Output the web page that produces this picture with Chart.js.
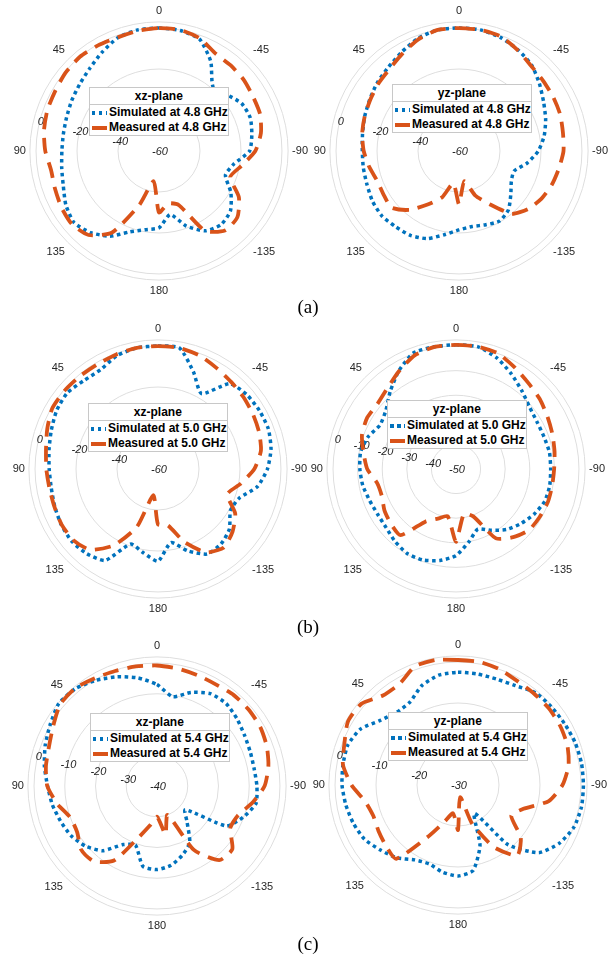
<!DOCTYPE html>
<html>
<head>
<meta charset="utf-8">
<script src="https://cdn.jsdelivr.net/npm/chart.js@4.4.1/dist/chart.umd.min.js"></script>
<style>
  body { margin: 0; background: #fff; }
  #page { position: relative; width: 613px; height: 959px; overflow: hidden; }
  canvas { position: absolute; }
  .lg { position: absolute; z-index: 2; background: #fff; border: 1px solid #c8c8c8;
        font: bold 12px "Liberation Sans", Arial, sans-serif; color: #000; }
  .lg .t { height: 16px; line-height: 16px; text-align: center; border-bottom: 1px solid #c8c8c8; }
  .lg .e { position: relative; height: 15px; line-height: 15px; padding-left: 19px; white-space: nowrap; }
  .lg .s { position: absolute; left: 2px; top: 6px; width: 15px; height: 4px; }
  .lg .sim { background: repeating-linear-gradient(90deg, #0072BD 0 3.5px, transparent 3.5px 7px); }
  .lg .mea { background: #D95319; }
  .cap { position: absolute; transform: translate(-50%, -50%); font: 19px "Liberation Serif", "Times New Roman", serif; }
</style>
</head>
<body>
<div id="page"></div>
<script>
// theta in degrees, read clockwise on screen from the top: 0, -10 ... -170, 180, 170 ... 10
const thetaDeg = [0, -10, -20, -30, -40, -50, -60, -70, -80, -90, -100, -110, -120, -130, -140, -150, -160, -170,
                  180, 170, 160, 150, 140, 130, 120, 110, 100, 90, 80, 70, 60, 50, 40, 30, 20, 10];
const angleTickLabels = [0, -45, -90, -135, 180, 135, 90, 45];

// gain in dB
const simXZ48 = [0, -0.3, -2, -9.5, -19, -17, -13.5, -12.6, -14, -15.8, -23, -25.5, -19.5, -14.5, -13, -15, -21, -28.5,
                 -22.5, -21, -18, -12, -8, -5.8, -7.5, -10.3, -11.8, -12.6, -12.6, -12, -10.8, -9.4, -7.4, -4.4, -1.2, 0];
const measXZ48 = [0, 0, -1.5, -5, -5.5, -6, -7, -7.5, -9.5, -13, -19, -23, -15, -10, -9.5, -15, -32, -34,
                  -30, -45, -32, -14, -6.5, -4.5, -5, -6, -6.5, -4.5, -3, -2, -1.5, -0.5, 0, -0.5, -1, -0.5];
const simYZ48 = [0, 0, -1, -2.8, -5, -8.8, -12.3, -15, -17.8, -21.3, -26.2, -31.4, -30.5, -27, -22.5, -20.5, -21.7, -22.6,
                 -21.5, -18.5, -14.5, -12.5, -11.8, -10.8, -11.2, -12.2, -12.6, -12.8, -12.2, -11, -9.7, -8, -6.5, -4.2, -1.5, 0];
const measYZ48 = [0, 0, -0.5, -3, -5.5, -6.5, -7, -7.5, -8.5, -9, -10.5, -11.8, -13.5, -16, -20, -30, -37, -45,
                  -34, -44, -36, -30, -22.5, -17, -17.5, -17.5, -15.5, -13.5, -12, -11, -10, -8.7, -7.5, -5, -2, 0];

const simXZ50 = [0, 0, -9.5, -17.5, -5.6, -3.5, -2.9, -2.7, -4, -6.6, -10.7, -18, -19.2, -14.5, -12.2, -12.1, -17.5, -23.5,
                 -15, -18.5, -21, -8.5, -6, -5.1, -5.5, -6.4, -7.1, -6.9, -6, -4.6, -2.9, -2.2, -3.7, -4, -1.2, 0];
const measXZ50 = [0, 0, -1, -3, -4.5, -5.5, -6.5, -7.5, -9, -13, -19, -24, -16.5, -12.5, -10, -13, -22, -32,
                  -33, -47, -30, -17, -8.5, -6, -5.7, -6.2, -6.2, -5.5, -4.5, -2.5, -0.5, -0.5, -0.8, -1, -0.5, 0];
const simYZ50 = [0.5, 0.5, -1.8, -5.2, -8.4, -10.9, -11.9, -11.9, -11.4, -11.5, -11.3, -11.6, -13.3, -15.5, -17.9, -21.2, -24, -19.9,
                 -14.8, -12.2, -10.6, -10.3, -11.5, -12.9, -13.2, -12.6, -11.5, -10.9, -10.6, -11.9, -14.3, -12.8, -8.5, -3.7, 0.3, 0.5];
const measYZ50 = [0.5, 0.5, 0, -2.3, -4.3, -5.6, -7.1, -8.3, -9.3, -10.1, -10.3, -10.3, -10.8, -11.3, -13.8, -17.4, -29.5, -31.5,
                  -20.4, -30.5, -28.5, -25.4, -14.9, -15.4, -16.4, -17.9, -17.4, -13.9, -11.8, -9.3, -8.3, -8.5, -6.8, -3.9, -0.8, 0.4];

const simXZ54 = [-7, -10.5, -7.6, -5.3, -5, -6, -7.1, -7.7, -7.9, -7.5, -7.3, -10.2, -14, -28, -24.8, -18.7, -16, -13.8,
                 -12.8, -13.5, -19.5, -18, -12.5, -9.6, -7.7, -6.6, -5.4, -4.4, -2.8, -1.3, 0.1, 1.7, 1.3, -0.3, -2.2, -4.3];
const measXZ54 = [-0.8, -1.2, -1.6, -1.8, -1.3, -1.2, -1.3, -2, -3.2, -5, -8.5, -12, -12.5, -8, -8.5, -16, -30, -24,
                  -30, -27, -22, -12, -8, -7.8, -10, -10, -7, -4.3, -3.3, -2.6, -1, 1.2, 1.5, 0.5, -0.2, -0.5];
const simYZ54 = [-2.5, -2.5, -2.5, -2, -0.6, -0.3, 0, 0.4, 0.6, 0.6, 0.6, 0.1, -1.5, -4.3, -11, -22, -14.3, -8.8,
                 -7.8, -8.4, -9.5, -8.9, -6.8, -5.3, -3.6, -2.8, -2.2, -1.7, -1.5, -1.4, -2.6, -5.4, -6.8, -6.6, -4.2, -2.8];
const measYZ54 = [0.5, 0.5, 0, -0.8, -1, -1, -1.2, -1.6, -2.6, -4.5, -7.5, -13, -15, -10, -7.5, -12.5, -20, -27,
                  -19, -23, -20.5, -15.5, -6.5, -7, -7.6, -8, -7, -4, -1.5, -0.5, 1, 0.8, -1.5, -1.5, 0.8, 1];

// radial tick labels (dB)
const rTicks20 = [0, -20, -40, -60];
const rTicks50 = [0, -10, -20, -30, -40, -50];
const rTicks40 = [0, -10, -20, -30, -40];
const rTicks30 = [0, -10, -20, -30];

const BLUE = '#0072BD';
const ORANGE = '#D95319';
const GRID = '#dedede';

// the library grid runs every 5 deg so the 45 deg spokes exist; data sit on every other spoke
const thetaGrid = [];
for (let i = 0; i < 72; i++) {
  let a = -5 * i;
  if (a <= -180) a += 360;
  thetaGrid.push(a);
}
const onGrid = arr => thetaGrid.map(a => {
  const k = thetaDeg.indexOf(a);
  return k < 0 ? null : arr[k];
});

const panels = [
  { cx: 159, cy: 151, plane: 'xz-plane', freq: '4.8', sim: simXZ48, meas: measXZ48, ticks: rTicks20, max: 3,   lg: [89, 87] },
  { cx: 459, cy: 151, plane: 'yz-plane', freq: '4.8', sim: simYZ48, meas: measYZ48, ticks: rTicks20, max: 3,   lg: [392, 84] },
  { cx: 158, cy: 469, plane: 'xz-plane', freq: '5.0', sim: simXZ50, meas: measXZ50, ticks: rTicks20, max: 3,   lg: [88, 403] },
  { cx: 456, cy: 469, plane: 'yz-plane', freq: '5.0', sim: simYZ50, meas: measYZ50, ticks: rTicks50, max: 2.5, lg: [387, 400] },
  { cx: 157, cy: 786, plane: 'xz-plane', freq: '5.4', sim: simXZ54, meas: measXZ54, ticks: rTicks40, max: 2,   lg: [90, 713] },
  { cx: 458, cy: 785, plane: 'yz-plane', freq: '5.4', sim: simYZ54, meas: measYZ54, ticks: rTicks30, max: 1.5, lg: [388, 712] },
];

const captions = [['(a)', 308, 307], ['(b)', 308, 627], ['(c)', 308, 944]];

// radial dB labels along a ray at 76 deg (counter-clockwise from top), like the reference
const rTickLabels = {
  id: 'rTickLabels',
  beforeDatasetsDraw(chart, args, opts) {
    const s = chart.scales.r;
    const ctx = chart.ctx;
    const a = opts.angle * Math.PI / 180;
    ctx.save();
    ctx.font = 'italic 11px "Liberation Sans", Arial, sans-serif';
    ctx.fillStyle = '#262626';
    ctx.textAlign = 'center';
    ctx.textBaseline = 'middle';
    opts.values.forEach(v => {
      const d = s.getDistanceFromCenterForValue(v);
      ctx.fillText(String(v), s.xCenter - d * Math.sin(a) + 1, s.yCenter - d * Math.cos(a) + 1);
    });
    ctx.restore();
  }
};

const page = document.getElementById('page');
const SIZE = 297;

panels.forEach(p => {
  const canvas = document.createElement('canvas');
  canvas.width = SIZE;
  canvas.height = SIZE;
  canvas.style.left = (p.cx - 146) + 'px';
  canvas.style.top = (p.cy - 148) + 'px';
  page.appendChild(canvas);

  const rMin = Math.min(...p.ticks);
  new Chart(canvas.getContext('2d'), {
    type: 'radar',
    data: {
      labels: thetaGrid,
      datasets: [
        {
          label: 'Simulated at ' + p.freq + ' GHz',
          data: onGrid(p.sim),
          borderColor: BLUE,
          borderWidth: 3.5,
          borderDash: [3.5, 3.5],
          borderCapStyle: 'butt',
          fill: false,
          spanGaps: true,
          order: 1,
        },
        {
          label: 'Measured at ' + p.freq + ' GHz',
          data: onGrid(p.meas),
          borderColor: ORANGE,
          borderWidth: 3.8,
          borderDash: [16, 9],
          borderCapStyle: 'butt',
          fill: false,
          spanGaps: true,
          order: 0,
        },
      ],
    },
    options: {
      responsive: false,
      animation: false,
      events: [],
      elements: { point: { radius: 0 }, line: { tension: 0.2 } },
      plugins: {
        legend: { display: false },
        tooltip: { enabled: false },
        rTickLabels: { values: p.ticks, angle: 76 },
      },
      scales: {
        r: {
          min: rMin,
          max: p.max,
          afterBuildTicks: s => {
            s.ticks = p.ticks.slice().reverse().concat([p.max]).map(v => ({ value: v }));
          },
          ticks: { display: false },
          grid: {
            circular: true,
            color: c => (c.index === 0 ? 'rgba(0,0,0,0)' : GRID),
            lineWidth: 1,
          },
          angleLines: {
            color: c => (angleTickLabels.includes(c.label) ? GRID : 'rgba(0,0,0,0)'),
            lineWidth: 1,
          },
          pointLabels: {
            callback: lab => (angleTickLabels.includes(lab) ? String(lab) : ''),
            font: { family: '"Liberation Sans", Arial, sans-serif', size: 11 },
            color: '#262626',
            padding: 4,
          },
        },
      },
    },
    plugins: [rTickLabels],
  });

  const lg = document.createElement('div');
  lg.className = 'lg';
  lg.style.left = p.lg[0] + 'px';
  lg.style.top = p.lg[1] + 'px';
  lg.innerHTML =
    '<div class="t">' + p.plane + '</div>' +
    '<div class="e"><span class="s sim"></span>Simulated at ' + p.freq + ' GHz</div>' +
    '<div class="e" style="padding-right:1px"><span class="s mea"></span>Measured at ' + p.freq + ' GHz</div>';
  page.appendChild(lg);
});

captions.forEach(([txt, x, y]) => {
  const d = document.createElement('div');
  d.className = 'cap';
  d.style.left = x + 'px';
  d.style.top = y + 'px';
  d.textContent = txt;
  page.appendChild(d);
});
</script>
</body>
</html>
